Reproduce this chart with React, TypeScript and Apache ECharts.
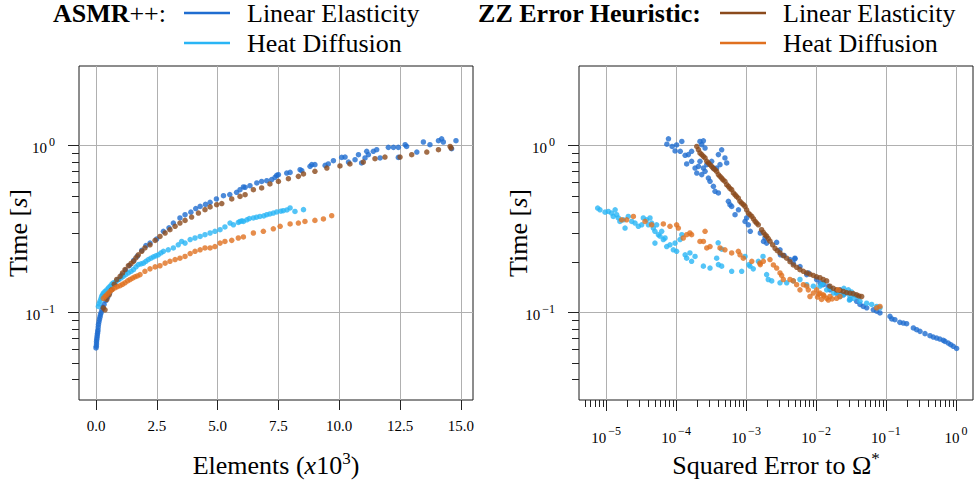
import React, { useEffect, useRef } from "react";
import * as echarts from "echarts";

// ---------- data ----------
// Left plot: [elements (x10^3), time (s)]
const asmrLinearLeft: number[][] = [
  [0.0, 0.0615], [0.01, 0.063], [0.02, 0.065], [0.02, 0.067], [0.03, 0.069], [0.04, 0.071], [0.05, 0.073],
  [0.06, 0.075], [0.07, 0.077], [0.08, 0.079], [0.09, 0.082], [0.1, 0.085], [0.12, 0.088], [0.14, 0.091],
  [0.16, 0.094], [0.18, 0.097], [0.21, 0.1], [0.24, 0.104], [0.28, 0.108], [0.33, 0.112], [0.4, 0.118],
  [0.48, 0.124], [0.56, 0.131], [0.66, 0.139], [0.78, 0.148], [0.92, 0.158], [1.06, 0.168], [1.22, 0.18],
  [1.38, 0.192], [1.55, 0.206], [1.7, 0.218], [1.88, 0.236], [2.05, 0.252], [2.22, 0.261], [2.49, 0.276],
  [2.77, 0.307], [3.0, 0.322], [3.18, 0.344], [3.45, 0.369], [3.66, 0.386], [3.9, 0.4], [4.1, 0.42],
  [4.28, 0.433], [4.5, 0.445], [4.69, 0.458], [4.95, 0.48], [5.24, 0.502], [5.5, 0.51], [5.78, 0.526],
  [5.92, 0.545], [6.06, 0.566], [6.13, 0.563], [6.33, 0.576], [6.61, 0.598], [6.81, 0.611], [7.02, 0.617],
  [7.22, 0.626], [7.36, 0.646], [7.43, 0.664], [7.5, 0.67], [7.84, 0.686], [7.98, 0.692], [8.39, 0.718],
  [8.46, 0.708], [8.8, 0.752], [8.87, 0.77], [9.0, 0.77], [9.42, 0.762], [9.55, 0.777], [9.76, 0.813],
  [10.1, 0.851], [10.24, 0.855], [10.38, 0.798], [10.65, 0.824], [10.79, 0.883], [10.92, 0.788],
  [11.06, 0.844], [11.13, 0.925], [11.2, 0.883], [11.4, 0.925], [11.54, 0.946], [11.68, 0.844],
  [12.02, 0.977], [12.23, 0.977], [12.43, 0.977], [12.43, 0.851], [12.71, 1.014], [12.77, 0.99],
  [13.19, 0.916], [13.46, 1.052], [13.73, 1.014], [14.08, 1.071], [14.21, 1.1], [14.28, 1.052],
  [14.62, 0.959], [14.8, 1.071],
];
const asmrHeatLeft: number[][] = [
  [0.096, 0.109], [0.12, 0.113], [0.16, 0.117], [0.2, 0.121], [0.23, 0.125], [0.27, 0.128], [0.3, 0.131],
  [0.37, 0.134], [0.44, 0.137], [0.51, 0.141], [0.58, 0.144], [0.65, 0.148], [0.71, 0.151], [0.82, 0.154],
  [0.92, 0.158], [1.02, 0.161], [1.12, 0.165], [1.22, 0.169], [1.33, 0.173], [1.44, 0.177], [1.54, 0.181],
  [1.64, 0.188], [1.74, 0.194], [1.85, 0.196], [1.95, 0.198], [2.05, 0.203], [2.15, 0.208], [2.26, 0.212],
  [2.36, 0.216], [2.46, 0.219], [2.56, 0.222], [2.67, 0.228], [2.77, 0.233], [2.97, 0.238], [3.18, 0.244],
  [3.38, 0.255], [3.52, 0.267], [3.66, 0.261], [3.87, 0.274], [4.07, 0.28], [4.28, 0.286], [4.48, 0.293],
  [4.69, 0.3], [4.89, 0.307], [5.1, 0.314], [5.3, 0.326], [5.51, 0.344], [5.65, 0.336], [5.85, 0.347],
  [5.92, 0.352], [6.0, 0.355], [6.06, 0.352], [6.2, 0.36], [6.3, 0.366], [6.47, 0.369], [6.6, 0.373],
  [6.74, 0.377], [6.9, 0.38], [7.02, 0.386], [7.15, 0.39], [7.29, 0.395], [7.43, 0.401], [7.6, 0.405],
  [7.7, 0.408], [7.85, 0.412], [7.98, 0.424], [8.18, 0.404], [8.53, 0.414],
];
const zzLinearLeft: number[][] = [
  [0.3, 0.107], [0.37, 0.104], [0.44, 0.12], [0.54, 0.128], [0.64, 0.137], [0.75, 0.148], [0.85, 0.158],
  [0.99, 0.165], [1.09, 0.173], [1.19, 0.181], [1.33, 0.191], [1.44, 0.197], [1.54, 0.203], [1.64, 0.213],
  [1.74, 0.222], [1.88, 0.233], [2.01, 0.244], [2.22, 0.255], [2.43, 0.271], [2.63, 0.286], [2.84, 0.3],
  [3.04, 0.314], [3.25, 0.329], [3.45, 0.344], [3.66, 0.357], [3.93, 0.374], [4.21, 0.395], [4.48, 0.414],
  [4.69, 0.43], [4.96, 0.443], [5.17, 0.45], [5.58, 0.48], [5.92, 0.497], [6.13, 0.509], [6.47, 0.545],
  [6.81, 0.558], [7.15, 0.59], [7.5, 0.611], [7.91, 0.634], [8.32, 0.655], [8.53, 0.677], [9.0, 0.702],
  [9.49, 0.735], [10.03, 0.756], [10.44, 0.777], [10.99, 0.798], [11.47, 0.836], [11.88, 0.855],
  [12.5, 0.855], [12.98, 0.883], [13.6, 0.916], [14.08, 0.946], [14.56, 0.99], [14.6, 0.968],
];
const zzHeatLeft: number[][] = [
  [0.3, 0.122], [0.37, 0.125], [0.44, 0.128], [0.51, 0.131], [0.58, 0.134], [0.68, 0.138], [0.78, 0.141],
  [0.88, 0.143], [0.99, 0.145], [1.09, 0.148], [1.19, 0.151], [1.3, 0.155], [1.4, 0.158], [1.5, 0.161],
  [1.6, 0.164], [1.7, 0.166], [1.81, 0.169], [2.01, 0.177], [2.22, 0.183], [2.43, 0.188], [2.63, 0.191],
  [2.84, 0.198], [3.04, 0.203], [3.25, 0.208], [3.45, 0.212], [3.66, 0.217], [3.87, 0.226], [4.07, 0.233],
  [4.28, 0.238], [4.48, 0.244], [4.69, 0.244], [4.89, 0.249], [5.1, 0.261], [5.3, 0.267], [5.58, 0.271],
  [5.85, 0.28], [6.06, 0.284], [6.47, 0.3], [6.88, 0.307], [7.29, 0.318], [7.57, 0.329], [7.98, 0.34],
  [8.32, 0.344], [8.59, 0.352], [9.0, 0.357], [9.35, 0.364], [9.69, 0.381],
];

// Right plot: [squared error to Omega*, time (s)]
const asmrLinearRight: number[][] = [
  [7.8e-5, 1.1], [7.4e-5, 1.02], [8.8e-5, 0.99], [1.02e-4, 1.01], [1.21e-4, 1.06], [9.7e-5, 0.93],
  [1.15e-4, 0.925], [1.35e-4, 0.876], [1.5e-4, 0.884], [1.67e-4, 0.925], [1.42e-4, 0.777], [1.67e-4, 0.806],
  [1.87e-4, 0.735], [2.09e-4, 0.752], [2.2e-4, 1.06], [2.46e-4, 1.07], [2.33e-4, 1.014], [2.6e-4, 0.968],
  [1.98e-4, 0.686], [2.33e-4, 0.671], [2.6e-4, 0.702], [2.9e-4, 0.64], [3.06e-4, 0.612], [3.42e-4, 0.571],
  [3.61e-4, 0.533], [4.03e-4, 0.521], [3.8e-4, 0.735], [4.25e-4, 0.77], [4.03e-4, 0.884], [4.49e-4, 0.945],
  [5.0e-4, 0.844], [5.3e-4, 0.788], [3.23e-4, 0.806], [3.42e-4, 0.735], [2.2e-4, 0.806], [2.46e-4, 0.735],
  [2.75e-4, 0.77], [5.6e-4, 0.464], [6.24e-4, 0.433], [5.9e-4, 0.443], [6.97e-4, 0.386], [7.8e-4, 0.413],
  [9.7e-4, 0.352], [1.08e-3, 0.336], [1.15e-3, 0.307], [1.02e-3, 0.369], [1.6e-3, 0.3], [1.78e-3, 0.267],
  [1.87e-3, 0.28], [1.97e-3, 0.261], [2.74e-3, 0.264], [3.06e-3, 0.238], [3.1e-3, 0.222], [3.5e-3, 0.22],
  [4.25e-3, 0.208], [5.0e-3, 0.21], [4.74e-3, 0.198], [5.0e-3, 0.212], [5.91e-3, 0.189], [7.36e-3, 0.169],
  [7.77e-3, 0.173], [1.02e-2, 0.158], [1.14e-2, 0.151], [1.27e-2, 0.147], [1.5e-2, 0.144], [1.58e-2, 0.137],
  [1.97e-2, 0.131], [2.2e-2, 0.137], [2.46e-2, 0.128], [3.06e-2, 0.12], [3.81e-2, 0.117], [4.25e-2, 0.112],
  [4.74e-2, 0.109], [5.3e-2, 0.107], [6.59e-2, 0.104], [7.36e-2, 0.102], [8.2e-2, 0.0996], [0.114, 0.095],
  [0.121, 0.0917], [0.134, 0.0908], [0.158, 0.0875], [0.177, 0.0867], [0.197, 0.0859], [0.246, 0.081],
  [0.274, 0.0791], [0.306, 0.0773], [0.361, 0.0749], [0.425, 0.0728], [0.474, 0.0715], [0.53, 0.0705],
  [0.59, 0.0695], [0.659, 0.0683], [0.697, 0.0673], [0.776, 0.0658], [0.84, 0.0643], [0.916, 0.0629],
  [1.02, 0.0611],
];
const asmrHeatRight: number[][] = [
  [7.6e-6, 0.423], [8.2e-6, 0.413], [9.7e-6, 0.4], [1.08e-5, 0.404], [1.2e-5, 0.395], [1.35e-5, 0.413],
  [1.27e-5, 0.377], [1.42e-5, 0.386], [1.5e-5, 0.369], [1.58e-5, 0.352], [1.77e-5, 0.36], [1.87e-5, 0.321],
  [2.08e-5, 0.377], [2.33e-5, 0.352], [2.6e-5, 0.344], [2.9e-5, 0.329], [3.23e-5, 0.336], [3.41e-5, 0.369],
  [3.81e-5, 0.36], [4.03e-5, 0.336], [4.25e-5, 0.369], [4.49e-5, 0.344], [4.74e-5, 0.321], [5.0e-5, 0.307],
  [5.29e-5, 0.336], [5.6e-5, 0.293], [5.0e-5, 0.261], [5.9e-5, 0.287], [6.24e-5, 0.307], [6.59e-5, 0.274],
  [6.97e-5, 0.28], [7.36e-5, 0.249], [8.2e-5, 0.255], [9.16e-5, 0.238], [9.68e-5, 0.261], [1.02e-4, 0.233],
  [1.14e-4, 0.274], [1.21e-4, 0.293], [1.35e-4, 0.222], [1.42e-4, 0.212], [1.58e-4, 0.228], [1.67e-4, 0.203],
  [1.87e-4, 0.217], [2.46e-4, 0.19], [3.06e-4, 0.185], [3.81e-4, 0.212], [4.0e-4, 0.262], [4.5e-4, 0.24],
  [4.03e-4, 0.194], [4.49e-4, 0.19], [6.24e-4, 0.177], [8.67e-4, 0.177], [1.14e-3, 0.19], [9.68e-4, 0.217],
  [1.1e-3, 0.194], [1.27e-3, 0.183], [1.5e-3, 0.203], [1.75e-3, 0.217], [1.97e-3, 0.169], [2.08e-3, 0.158],
  [2.33e-3, 0.155], [3.06e-3, 0.151], [3.81e-3, 0.151], [4.74e-3, 0.155], [5.9e-3, 0.158], [7.36e-3, 0.147],
  [9.16e-3, 0.144], [1.14e-2, 0.144], [1.2e-2, 0.147], [1.27e-2, 0.151], [1.42e-2, 0.137], [1.6e-2, 0.14],
  [1.77e-2, 0.131], [1.97e-2, 0.131], [2.2e-2, 0.134], [2.2e-2, 0.125], [2.46e-2, 0.128], [2.5e-2, 0.14],
  [2.74e-2, 0.131], [2.9e-2, 0.137], [3.0e-2, 0.119], [3.06e-2, 0.125], [3.2e-2, 0.133], [3.41e-2, 0.122],
  [3.6e-2, 0.128], [4.0e-2, 0.124], [4.25e-2, 0.117], [5.29e-2, 0.114], [6.24e-2, 0.112], [7.36e-2, 0.109],
  [8.2e-2, 0.107],
];
const zzLinearRight: number[][] = [
  [1.98e-4, 0.99], [2.09e-4, 0.946], [2.2e-4, 0.904], [2.33e-4, 0.884], [2.46e-4, 0.864], [2.6e-4, 0.844],
  [2.75e-4, 0.806], [2.9e-4, 0.788], [3.06e-4, 0.77], [3.23e-4, 0.752], [3.4e-4, 0.735], [3.61e-4, 0.718],
  [3.8e-4, 0.702], [4.03e-4, 0.671], [4.25e-4, 0.655], [4.49e-4, 0.64], [4.7e-4, 0.625], [5.0e-4, 0.612],
  [5.3e-4, 0.584], [5.6e-4, 0.571], [5.9e-4, 0.555], [6.24e-4, 0.545], [6.6e-4, 0.521], [6.97e-4, 0.509],
  [7.3e-4, 0.497], [7.77e-4, 0.486], [8.2e-4, 0.464], [8.67e-4, 0.453], [9.2e-4, 0.443], [9.68e-4, 0.433],
  [1.02e-3, 0.413], [1.08e-3, 0.395], [1.14e-3, 0.386], [1.21e-3, 0.377], [1.28e-3, 0.364], [1.35e-3, 0.352],
  [1.42e-3, 0.344], [1.5e-3, 0.336], [1.67e-3, 0.314], [1.77e-3, 0.303], [1.87e-3, 0.293], [1.97e-3, 0.287],
  [2.08e-3, 0.278], [2.2e-3, 0.268], [2.4e-3, 0.255], [2.6e-3, 0.243], [2.8e-3, 0.235], [3.06e-3, 0.228],
  [3.4e-3, 0.22], [3.81e-3, 0.212], [4.25e-3, 0.202], [4.74e-3, 0.193], [5.3e-3, 0.187], [5.9e-3, 0.181],
  [6.6e-3, 0.177], [7.36e-3, 0.173], [8.2e-3, 0.17], [9.16e-3, 0.167], [1.02e-2, 0.164], [1.14e-2, 0.162],
  [1.27e-2, 0.158], [1.42e-2, 0.155], [1.58e-2, 0.144], [1.77e-2, 0.14], [1.97e-2, 0.137], [2.2e-2, 0.136],
  [2.46e-2, 0.134], [2.74e-2, 0.132], [3.06e-2, 0.131], [3.41e-2, 0.13], [3.81e-2, 0.128], [4.1e-2, 0.126],
  [4.49e-2, 0.125],
];
const zzHeatRight: number[][] = [
  [1.67e-5, 0.36], [1.97e-5, 0.36], [2.46e-5, 0.377], [3.61e-5, 0.352], [4.49e-5, 0.336], [6.59e-5, 0.34],
  [8.2e-5, 0.329], [1.02e-4, 0.336], [1.08e-4, 0.321], [1.27e-4, 0.28], [1.42e-4, 0.293], [1.58e-4, 0.3],
  [1.67e-4, 0.293], [2.2e-4, 0.267], [2.46e-4, 0.267], [2.6e-4, 0.307], [2.75e-4, 0.244], [3.06e-4, 0.249],
  [4.25e-4, 0.244], [5.0e-4, 0.238], [6.24e-4, 0.228], [7.77e-4, 0.233], [8.2e-4, 0.222], [9.16e-4, 0.212],
  [1.21e-3, 0.203], [1.6e-3, 0.194], [1.58e-3, 0.198], [1.77e-3, 0.203], [2.2e-3, 0.208], [2.46e-3, 0.193],
  [2.74e-3, 0.185], [3.06e-3, 0.173], [3.23e-3, 0.167], [3.41e-3, 0.158], [4.25e-3, 0.158], [4.74e-3, 0.155],
  [5.29e-3, 0.147], [5.9e-3, 0.137], [6.59e-3, 0.147], [7.36e-3, 0.144], [7.77e-3, 0.137], [8.2e-3, 0.125],
  [9.16e-3, 0.131], [1.02e-2, 0.137], [1.05e-2, 0.124], [1.1e-2, 0.129], [1.14e-2, 0.131], [1.2e-2, 0.12],
  [1.27e-2, 0.128], [1.3e-2, 0.126], [1.42e-2, 0.122], [1.5e-2, 0.119], [1.58e-2, 0.125], [1.7e-2, 0.121],
  [1.97e-2, 0.122], [2.08e-2, 0.137], [2.2e-2, 0.125], [7.36e-2, 0.107], [8.2e-2, 0.109],
];

// ticks
const leftXTicks = [0, 2.5, 5, 7.5, 10, 12.5, 15];
const timeMajorExponents = [-1, 0];
const timeMinorValues = [0.04, 0.05, 0.06, 0.07, 0.08, 0.09, 0.2, 0.3, 0.4, 0.5, 0.6, 0.7, 0.8, 0.9];
const errorMajorExponents = [-5, -4, -3, -2, -1, 0];
const errorMinorMantissas = [2, 3, 4, 5, 6, 7, 8, 9];
const errorMinorDecades = [-6, -5, -4, -3, -2, -1];

const seriesNames = [
  "ASMR++: Linear Elasticity",
  "ASMR++: Heat Diffusion",
  "ZZ Error Heuristic: Linear Elasticity",
  "ZZ Error Heuristic: Heat Diffusion",
];
const seriesColors = ["#1f6dd0", "#29b5f5", "#8b4a1c", "#e0701f"];

// ---------- helpers ----------
const lg = Math.log10;
const FONT = "Liberation Serif";
const TIME_MIN = lg(0.03);
const TIME_MAX = lg(3);
const ERR_MIN = -5.386;
const ERR_MAX = 0.243;
const errMinor: number[] = [];
errorMinorDecades.forEach((d) =>
  errorMinorMantissas.forEach((m) => {
    const v = lg(m) + d;
    if (v > ERR_MIN && v < ERR_MAX) errMinor.push(v);
  })
);
const timeMinor = timeMinorValues.map(lg);

const MINUS = "\u2212";
const powLabel = (v: number) => {
  const e = Math.round(v);
  return `{b|10}{s|${e < 0 ? MINUS + -e : e}}`;
};
const powRich = {
  b: { fontFamily: FONT, fontSize: 15, color: "#000", lineHeight: 20, verticalAlign: "bottom" },
  s: { fontFamily: FONT, fontSize: 12, color: "#000", lineHeight: 12, verticalAlign: "top", padding: [0, 0, 0, 2] },
};
const NAME_SIZE = 26;
const nameRich = {
  t: { fontFamily: FONT, fontSize: NAME_SIZE, color: "#000" },
  i: { fontFamily: FONT, fontSize: NAME_SIZE, fontStyle: "italic", color: "#000" },
  sup: { fontFamily: FONT, fontSize: 17, color: "#000", verticalAlign: "top", lineHeight: 17 },
};
const nameStyle = { fontFamily: FONT, fontSize: NAME_SIZE, color: "#000", lineHeight: 30, rich: nameRich };

const TICK = { color: "#222", width: 1 };
const GRID_LINE = { show: true, lineStyle: { color: "#b0b0b0", width: 1 } };

function majorTimeAxis(gridIndex: number) {
  return {
    gridIndex,
    type: "value",
    min: TIME_MIN,
    max: TIME_MAX,
    axisLine: { show: false, onZero: false },
    axisTick: { show: true, length: 11, lineStyle: TICK, customValues: timeMajorExponents },
    axisLabel: {
      customValues: timeMajorExponents,
      formatter: powLabel,
      margin: 24,
      rich: powRich,
    },
    splitLine: GRID_LINE,
    name: "{t|Time [}{i|s}{t|]}",
    nameLocation: "middle",
    nameRotate: 90,
    nameGap: 46,
    nameMoveOverlap: false,
    nameTextStyle: nameStyle,
  };
}
function minorTimeAxis(gridIndex: number) {
  return {
    gridIndex,
    type: "value",
    min: TIME_MIN,
    max: TIME_MAX,
    position: "left",
    axisLine: { show: false, onZero: false },
    axisTick: { show: true, length: 7, lineStyle: TICK, customValues: timeMinor },
    axisLabel: { show: false },
    splitLine: { show: false },
  };
}

const scatter = (idx: number, data: number[][], right: boolean) => ({
  type: "scatter",
  name: seriesNames[idx],
  xAxisIndex: right ? 1 : 0,
  yAxisIndex: right ? 2 : 0,
  data: data.map(([x, t]) => [right ? lg(x) : x, lg(t)]),
  symbol: "circle",
  symbolSize: 5.5,
  itemStyle: { color: seriesColors[idx], opacity: 0.8 },
  emphasis: { disabled: true },
});

const legendIcon = "path://M0,0H46V2.5H0ZM58,1.25L58,1.25";
const legendBase = {
  orient: "vertical",
  top: 0,
  padding: 0,
  itemWidth: 58,
  itemHeight: 2.5,
  itemGap: 4,
  icon: legendIcon,
  selectedMode: false,
  itemStyle: { opacity: 1, borderWidth: 0 },
  formatter: (n: string) => "{t|" + n.split(": ")[1] + "}",
  textStyle: {
    fontFamily: FONT,
    fontSize: NAME_SIZE,
    color: "#000",
    rich: { t: { fontFamily: FONT, fontSize: NAME_SIZE, color: "#000" } },
  },
};

export default function App() {
  const ref = useRef<HTMLDivElement>(null);
  useEffect(() => {
    document.body.style.margin = "0";
    if (!ref.current) return;
    const chart = echarts.init(ref.current, undefined, { renderer: "svg" });
    const gridBase = {
      top: 66,
      width: 394,
      height: 334,
      show: true,
      containLabel: false,
      outerBoundsMode: "none",
      borderColor: "#1a1a1a",
      borderWidth: 1,
      backgroundColor: "transparent",
    };
    chart.setOption({
      animation: false,
      textStyle: { fontFamily: FONT },
      grid: [
        { ...gridBase, left: 79 },
        { ...gridBase, left: 579 },
      ],
      legend: [
        { ...legendBase, left: 184, data: [seriesNames[0], seriesNames[1]] },
        { ...legendBase, left: 720, data: [seriesNames[2], seriesNames[3]] },
      ],
      graphic: [
        {
          type: "text",
          x: 166,
          y: 13,
          style: {
            text: "{b|ASMR}{r|++:}",
            align: "right",
            verticalAlign: "middle",
            font: `26px ${FONT}`,
            fill: "#000",
            rich: {
              b: { fontFamily: FONT, fontSize: 26, fontWeight: "bold" },
              r: { fontFamily: FONT, fontSize: 26 },
            },
          },
        },
        {
          type: "text",
          x: 701,
          y: 13,
          style: {
            text: "ZZ Error Heuristic:",
            align: "right",
            verticalAlign: "middle",
            font: `bold 26px ${FONT}`,
            fill: "#000",
          },
        },
      ],
      xAxis: [
        {
          gridIndex: 0,
          type: "value",
          min: -0.7,
          max: 15.5,
          axisLine: { show: false, onZero: false },
          axisTick: { show: true, length: 10, lineStyle: TICK, customValues: leftXTicks },
          axisLabel: {
            customValues: leftXTicks,
            formatter: (v: number) => v.toFixed(1),
            margin: 18,
            fontFamily: FONT,
            fontSize: 15,
            color: "#000",
          },
          splitLine: GRID_LINE,
          name: "{t|Elements (}{i|x}{t|10}{sup|3}{t|)}",
          nameLocation: "middle",
          nameGap: 50,
          nameTextStyle: nameStyle,
        },
        {
          gridIndex: 1,
          type: "value",
          min: ERR_MIN,
          max: ERR_MAX,
          axisLine: { show: false, onZero: false },
          axisTick: { show: true, length: 11, lineStyle: TICK, customValues: errorMajorExponents },
          axisLabel: {
            customValues: errorMajorExponents,
            formatter: powLabel,
            margin: 25,
            rich: powRich,
          },
          splitLine: GRID_LINE,
          name: "{t|Squared Error to \u03A9}{sup|*}",
          nameLocation: "middle",
          nameGap: 50,
          nameTextStyle: nameStyle,
        },
        {
          gridIndex: 1,
          type: "value",
          min: ERR_MIN,
          max: ERR_MAX,
          position: "bottom",
          axisLine: { show: false, onZero: false },
          axisTick: { show: true, length: 7, lineStyle: TICK, customValues: errMinor },
          axisLabel: { show: false },
          splitLine: { show: false },
        },
      ],
      yAxis: [majorTimeAxis(0), minorTimeAxis(0), majorTimeAxis(1), minorTimeAxis(1)],
      series: [
        scatter(0, asmrLinearLeft, false),
        scatter(1, asmrHeatLeft, false),
        scatter(2, zzLinearLeft, false),
        scatter(3, zzHeatLeft, false),
        scatter(0, asmrLinearRight, true),
        scatter(1, asmrHeatRight, true),
        scatter(2, zzLinearRight, true),
        scatter(3, zzHeatRight, true),
      ],
    });
    return () => chart.dispose();
  }, []);
  return <div ref={ref} style={{ width: 976, height: 483 }} />;
}
